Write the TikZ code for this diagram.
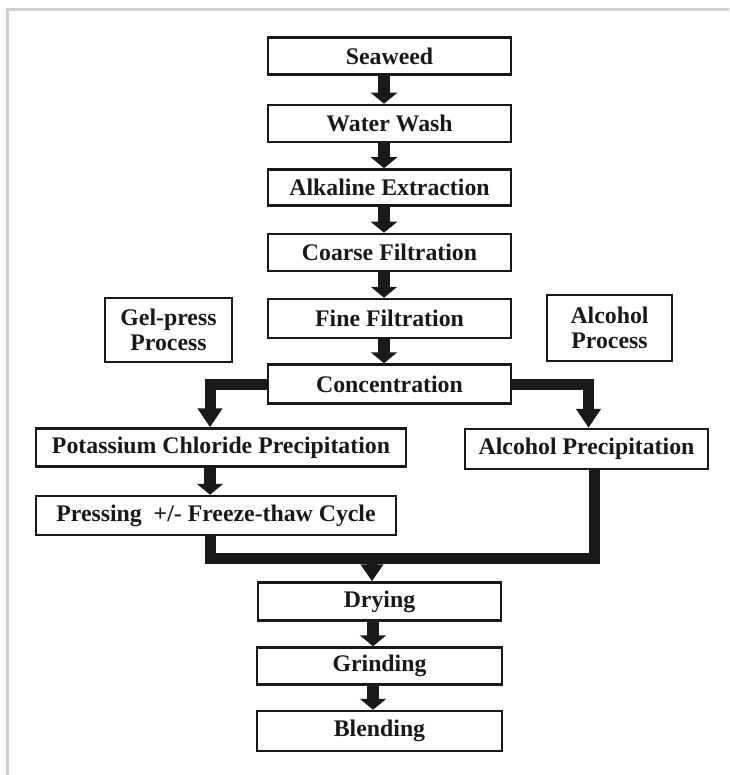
\documentclass[tikz,border=0pt]{standalone}
\usepackage{fontspec}
\setmainfont{Liberation Serif}
\usetikzlibrary{arrows.meta}
\definecolor{framegray}{RGB}{208,208,204}
\definecolor{ink}{RGB}{25,25,25}
\begin{document}
\begin{tikzpicture}[x=1pt,y=-1pt,
  box/.style={draw=ink, line width=2.5pt, inner sep=0pt, text=ink,
    font=\bfseries\fontsize{23.8}{25}\selectfont, align=center},
  flow/.style={draw=ink, line width=12pt, -{Triangle[width=26pt,length=11pt]}},
  bigflow/.style={draw=ink, line width=11pt, -{Triangle[width=24pt,length=19pt]}},
  merge/.style={draw=ink, line width=11pt}
]
\useasboundingbox (0,0) rectangle (729,775);
\draw[framegray, line width=3pt] (7.5,775) -- (7.5,10) -- (729,10);

% main column
\node[box, minimum width=243pt, minimum height=37pt] (seaweed) at (389.5,56) {Seaweed};
\node[box, minimum width=243pt, minimum height=37pt] (water) at (389.5,123.5) {Water Wash};
\node[box, minimum width=243pt, minimum height=36pt] (alk) at (389.5,187.5) {Alkaline Extraction};
\node[box, minimum width=243pt, minimum height=37pt] (coarse) at (389.5,252.5) {Coarse Filtration};
\node[box, minimum width=243pt, minimum height=39pt] (fine) at (389.5,318.5) {Fine Filtration};
\node[box, minimum width=243pt, minimum height=39pt] (conc) at (389.5,384) {Concentration};

% side labels
\node[box, minimum width=127pt, minimum height=64pt] (gel) at (168.5,330) {Gel-press\\Process};
\node[box, minimum width=125pt, minimum height=66pt] (alcproc) at (609.5,328) {Alcohol\\Process};

% branches
\node[box, minimum width=370pt, minimum height=38pt] (kcl) at (221,447.5) {Potassium Chloride Precipitation};
\node[box, minimum width=243pt, minimum height=40pt] (alcprec) at (586.5,449) {Alcohol Precipitation};
\node[box, minimum width=360pt, minimum height=39pt] (press) at (216,515.5) {Pressing\ \ +/- Freeze-thaw Cycle};

% finishing
\node[box, minimum width=243pt, minimum height=38pt] (drying) at (379.5,601.5) {Drying};
\node[box, minimum width=245pt, minimum height=37pt] (grinding) at (379.5,666) {Grinding};
\node[box, minimum width=245pt, minimum height=40pt] (blending) at (379.5,731) {Blending};

% straight arrows
\draw[flow] ([xshift=-5.5pt]seaweed.south) -- ([xshift=-5.5pt]water.north);
\draw[flow] ([xshift=-5.5pt]water.south) -- ([xshift=-5.5pt]alk.north);
\draw[flow] ([xshift=-5.5pt]alk.south) -- ([xshift=-5.5pt]coarse.north);
\draw[flow] ([xshift=-5.5pt]coarse.south) -- ([xshift=-5.5pt]fine.north);
\draw[flow] ([xshift=-5.5pt]fine.south) -- ([xshift=-5.5pt]conc.north);
\draw[flow] ([xshift=-11pt]kcl.south) -- ([xshift=-6pt]press.north);
\draw[flow] ([xshift=-6.5pt]drying.south) -- ([xshift=-6.5pt]grinding.north);
\draw[flow] ([xshift=-6.5pt]grinding.south) -- ([xshift=-6.5pt]blending.north);

% split after concentration
\draw[bigflow] (conc.west) -| ([xshift=-11pt]kcl.north);
\draw[bigflow] (conc.east) -| ([xshift=2pt]alcprec.north);

% merge before drying
\coordinate (ml) at (210,558);
\coordinate (mr) at (594,558);
\coordinate (mc) at (372,558);
\draw[merge] (press.south -| ml) -- (ml) -- (mr) -- (mr |- alcprec.south);
\draw[bigflow, -{Triangle[width=22pt,length=17pt]}] ([yshift=-5pt]mc) -- (mc |- drying.north);
\end{tikzpicture}
\end{document}
